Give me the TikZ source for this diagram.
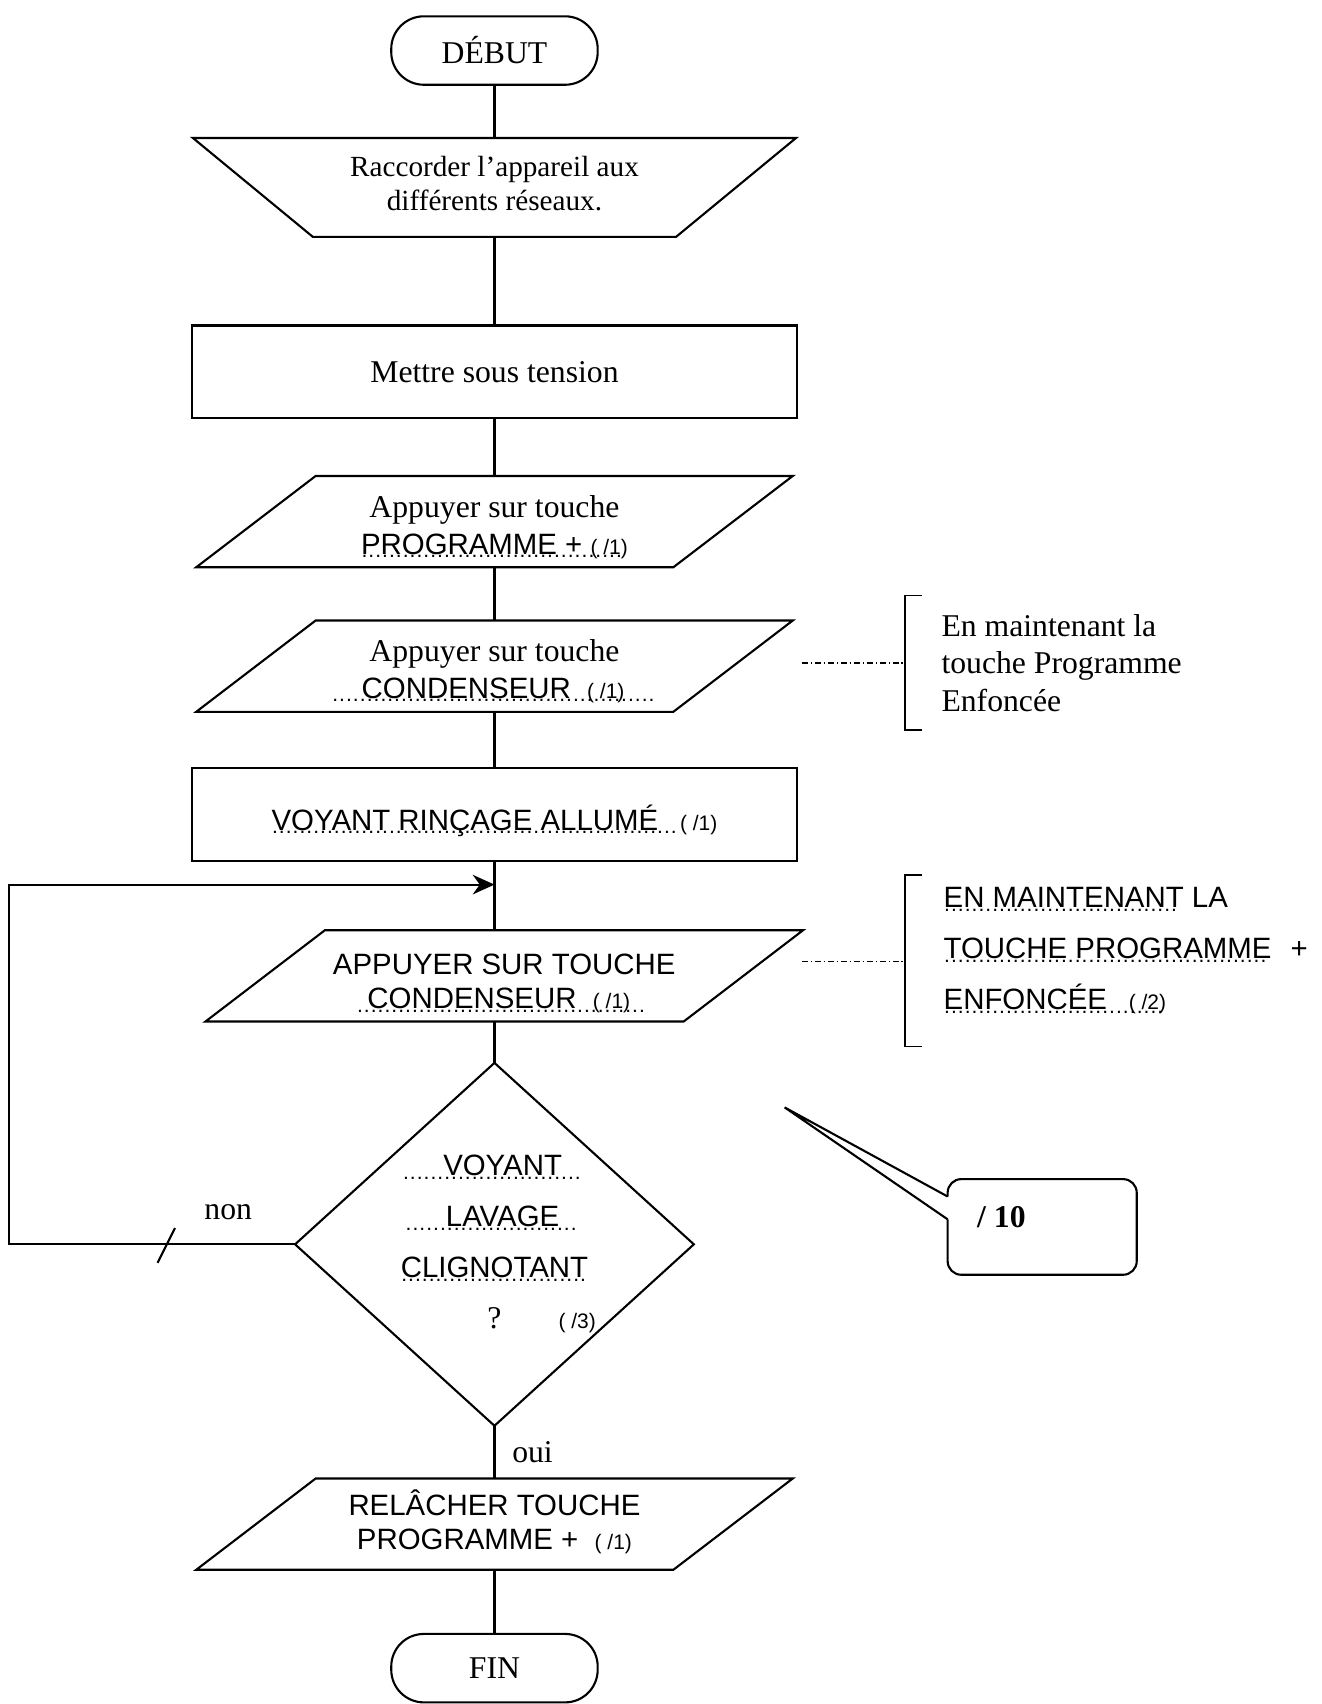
\documentclass[tikz,border=0pt]{standalone}
\usepackage{fontspec}
\setmainfont{Liberation Serif}
\setsansfont{Liberation Sans}
\usetikzlibrary{shapes.geometric}
\usetikzlibrary{arrows.meta}

\newcommand{\texteserif}{\rmfamily\fontsize{16.6}{19}\selectfont}
\newcommand{\textesans}{\sffamily\fontsize{15.4}{17.6}\selectfont}
\newcommand{\petit}[1]{{\sffamily\fontsize{11}{13}\selectfont #1}}
\newcommand{\pointille}[1]{\setbox0=\hbox{#1}\rlap{\lower2pt\hbox to \wd0{\leaders\hbox to 3.6pt{\hss\fontsize{11}{11}\selectfont.\hss}\hfill}}\box0\relax}

\tikzset{
	base/.style={draw, line width=1.1pt, inner sep=2pt, outer sep=0pt, align=center},
	texte/.style={inner sep=0pt, align=center},
	abaisse/.style={execute at begin node={\rule{0pt}{#1}}},
	debutfin/.style={base, rectangle, rounded corners=0.6cm, minimum width=3.8cm, minimum height=1.26cm, font=\texteserif},
	bloc/.style={base, rectangle, minimum width=11.14cm, minimum height=1.7cm},
	entree/.style={base, inner sep=0pt, trapezium, trapezium left angle=37.4, trapezium right angle=142.6, trapezium stretches body, minimum width=10.98cm, minimum height=1.68cm, text height=1.68cm, text depth=0pt},
	sortie/.style={base, inner sep=0pt, trapezium, shape border rotate=180, trapezium left angle=39.5, trapezium right angle=39.5, trapezium stretches body, minimum width=11.1cm, minimum height=1.82cm, text height=1.82cm, text depth=0pt},
	test/.style={base, diamond, aspect=1.1, inner sep=0pt, minimum width=7.34cm, minimum height=6.68cm, font={\sffamily\fontsize{15.4}{26.7}\selectfont}},
	liaison/.style={line width=1.1pt},
	renvoi/.style={line width=0.7pt, dash pattern=on 3pt off 1.5pt on 0.8pt off 1.5pt},
	crochet/.style={line width=0.9pt},
}

\begin{document}
\begin{tikzpicture}[x=0.02cm,y=-0.02cm]
	\useasboundingbox (0,0) rectangle (1216,1568);
	% organigramme
	\node[debutfin] (debut) at (455,46.5) {DÉBUT};
	\node[sortie] (raccord) at (455,172.5) {};
	\node[texte, font={\rmfamily\fontsize{15.3}{17.6}\selectfont}] (raccordtexte) at (455,169) {Raccorder l’appareil aux\\différents réseaux.};
	\node[bloc, font=\texteserif] (tension) at (455,342) {Mettre sous tension};
	\node[entree] (prog) at (455,480) {};
	\node[texte, font=\texteserif] (progtexte) at (455,485) {Appuyer sur touche\\{\textesans\pointille{PROGRAMME\hspace{0.15cm}+\hspace{0.15cm}\petit{( /1)}}}};
	\node[entree] (cond) at (455,613) {};
	\node[texte, font=\texteserif] (condtexte) at (455,617.5) {Appuyer sur touche\\{\textesans\pointille{\hspace{0.55cm}CONDENSEUR\hspace{0.3cm}\petit{( /1)}\hspace{0.6cm}}}};
	\node[bloc, abaisse=19.6pt, font=\textesans] (vrinc) at (455,749.5) {\pointille{VOYANT RINÇAGE ALLUMÉ\hspace{0.4cm}}\petit{( /1)}};
	\node[entree, minimum width=11cm] (appuyer) at (464,898) {};
	\node[texte, font=\textesans] (appuyertexte) at (464,905) {APPUYER SUR TOUCHE\hspace{0.68cm}\\\pointille{\hspace{0.2cm}CONDENSEUR\hspace{0.3cm}\petit{( /1)}\hspace{0.4cm}}};
	\node[test] (voyant) at (455,1145) {\pointille{\hspace{0.75cm}VOYANT\hspace{0.45cm}}\\\pointille{\hspace{0.75cm}LAVAGE\hspace{0.45cm}}\\\pointille{CLIGNOTANT}\\{\texteserif ?}\rlap{\hspace{1.05cm}\petit{( /3)}}};
	\node[entree] (relacher) at (455,1402.5) {};
	\node[texte, font=\textesans] (relachertexte) at (455,1400.5) {RELÂCHER TOUCHE\\PROGRAMME +\hspace{0.3cm}\petit{( /1)}};
	\node[debutfin] (fin) at (455,1535) {FIN};

	\draw[liaison] (debut) -- (raccord);
	\draw[liaison] (raccord) -- (tension);
	\draw[liaison] (tension) -- (prog);
	\draw[liaison] (prog) -- (cond);
	\draw[liaison] (cond) -- (vrinc);
	\draw[liaison] (vrinc) -- (vrinc.south |- appuyer.north);
	\draw[liaison] (vrinc.south |- appuyer.south) -- (voyant);
	\draw[liaison] (voyant) -- (relacher);
	\draw[liaison] (relacher) -- (fin);

	% boucle non
	\coordinate (coin) at (8,1146);
	\coordinate (retour) at (455,814);
	\draw[liaison, -{Stealth[length=0.4cm,width=0.36cm]}] (voyant.west) -- (voyant.west -| coin) -- (coin |- retour) -- (retour);
	\draw[liaison] (145,1162) -- (161,1130);
	\node[font=\texteserif] (non) at (210,1115) {non};
	\node[font=\texteserif] (oui) at (490,1336) {oui};

	% renvois
	\coordinate (r1a) at (738,610);
	\coordinate (r1b) at (833,610);
	\draw[renvoi] (r1a) -- (r1b);
	\draw[crochet] (848,548) -- (833,548) -- (833,672) -- (848,672);
	\node[anchor=west, inner sep=0pt, align=left, font={\rmfamily\fontsize{16.6}{19.6}\selectfont}] (maintien) at (866,610) {En maintenant la\\touche Programme\\Enfoncée};
	\coordinate (r2a) at (738,885);
	\coordinate (r2b) at (833,885);
	\draw[renvoi] (r2a) -- (r2b);
	\draw[crochet] (848,805) -- (833,805) -- (833,963) -- (848,963);
	\node[anchor=west, inner sep=0pt, align=left, font={\sffamily\fontsize{15.4}{26.7}\selectfont}] (maintien2) at (868,875) {\pointille{EN MAINTENANT} LA\\\pointille{TOUCHE PROGRAMME}\hspace{0.35cm}+\\\pointille{ENFONCÉE\hspace{0.4cm}\petit{( /2)}}};

	% bulle
	\coordinate (pointe) at (722,1019);
	\draw[liaison, rounded corners=0.25cm] (872,1122) -- (872,1173) -- (1046,1173) -- (1046,1085) -- (872,1085) -- (872,1101);
	\draw[liaison] (872,1101) -- (pointe) -- (872,1122);
	\node[anchor=west, font=\texteserif\bfseries] (bareme) at (893,1120) {/ 10};
\end{tikzpicture}
\end{document}
